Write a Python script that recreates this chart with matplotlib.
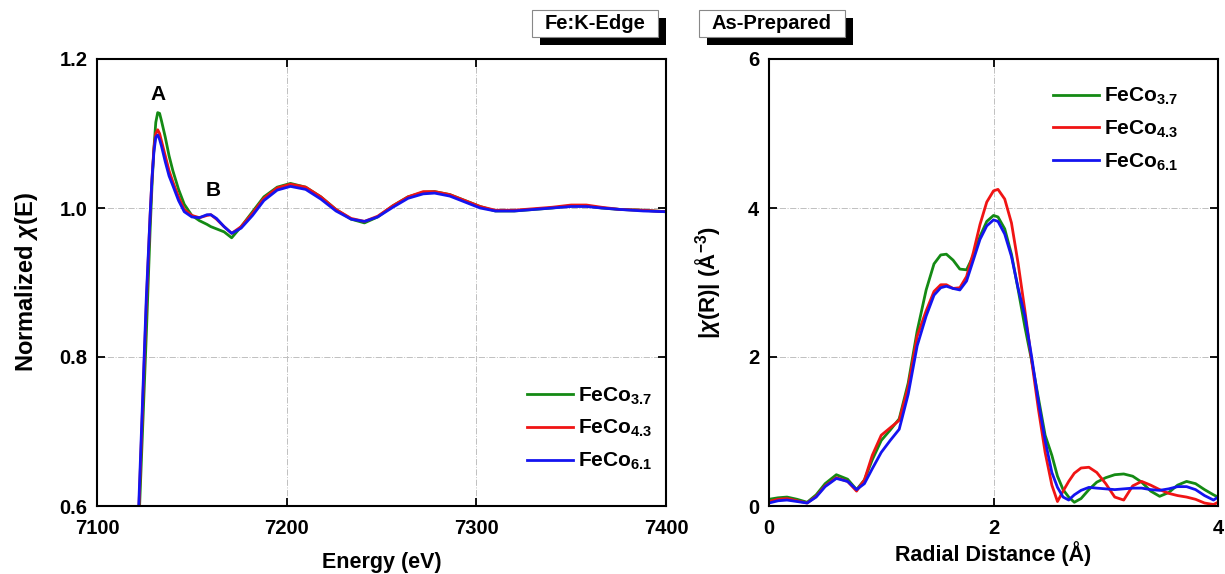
import numpy as np
from matplotlib import pyplot as plt
from matplotlib.patches import Rectangle

plt.rcParams['font.family'] = ['Liberation Sans', 'DejaVu Sans']
plt.rcParams['font.weight'] = 'bold'
plt.rcParams['mathtext.fontset'] = 'custom'
plt.rcParams['mathtext.rm'] = 'Liberation Sans:bold'
plt.rcParams['mathtext.bf'] = 'Liberation Sans:bold'
plt.rcParams['mathtext.it'] = 'Liberation Sans:italic'

# XANES (Fe K-edge)
energy = [7121, 7122, 7124, 7126, 7128, 7129, 7130, 7131, 7132, 7133, 7134, 7136, 7138, 7140,
          7143, 7146, 7150, 7154, 7158, 7160, 7163, 7167, 7171, 7176, 7182, 7188, 7195,
          7202, 7210, 7218, 7226, 7234, 7241, 7248, 7256, 7264, 7272, 7278, 7286, 7294,
          7302, 7310, 7320, 7330, 7340, 7350, 7358, 7366, 7376, 7388, 7400]
xanes_37 = [0.52, 0.57, 0.70, 0.83, 0.97, 1.03, 1.08, 1.115, 1.128, 1.127, 1.117, 1.095, 1.07, 1.05,
            1.025, 1.005, 0.99, 0.983, 0.978, 0.975, 0.972, 0.968, 0.960, 0.975, 0.995, 1.015, 1.028,
            1.033, 1.028, 1.015, 0.998, 0.985, 0.980, 0.988, 1.003, 1.015, 1.021, 1.022, 1.018, 1.010,
            1.002, 0.996, 0.996, 0.998, 1.000, 1.003, 1.003, 1.000, 0.998, 0.997, 0.995]
xanes_43 = [0.55, 0.59, 0.73, 0.87, 0.99, 1.04, 1.08, 1.10, 1.105, 1.10, 1.09, 1.07, 1.05, 1.035,
            1.015, 0.998, 0.99, 0.987, 0.99, 0.991, 0.985, 0.975, 0.966, 0.975, 0.993, 1.013, 1.027,
            1.032, 1.028, 1.015, 0.998, 0.986, 0.982, 0.989, 1.003, 1.015, 1.022, 1.022, 1.018, 1.010,
            1.002, 0.997, 0.997, 0.999, 1.001, 1.004, 1.004, 1.001, 0.998, 0.997, 0.995]
xanes_61 = [0.56, 0.60, 0.74, 0.88, 0.99, 1.04, 1.075, 1.095, 1.098, 1.092, 1.083, 1.062, 1.043, 1.03,
            1.01, 0.995, 0.988, 0.987, 0.991, 0.991, 0.986, 0.975, 0.966, 0.973, 0.990, 1.010, 1.024,
            1.029, 1.025, 1.012, 0.996, 0.985, 0.982, 0.988, 1.001, 1.013, 1.019, 1.020, 1.016, 1.008,
            1.000, 0.996, 0.996, 0.998, 1.000, 1.002, 1.002, 1.000, 0.998, 0.996, 0.995]

# EXAFS Fourier transform magnitude
radial = [0, 0.08, 0.16, 0.25, 0.34, 0.42, 0.5, 0.6, 0.7, 0.78, 0.85, 0.92, 1.0, 1.08, 1.16,
          1.24, 1.32, 1.40, 1.47, 1.53, 1.58, 1.64, 1.70, 1.76, 1.82, 1.88, 1.94, 2.0, 2.04,
          2.10, 2.16, 2.22, 2.28, 2.34, 2.40, 2.46, 2.52, 2.57, 2.62, 2.67, 2.72, 2.78, 2.85,
          2.92, 3.0, 3.08, 3.16, 3.24, 3.32, 3.40, 3.48, 3.56, 3.64, 3.72, 3.80, 3.88, 3.96, 4.0]
chir_37 = [0.09, 0.11, 0.12, 0.09, 0.05, 0.15, 0.30, 0.42, 0.36, 0.22, 0.35, 0.62, 0.88, 1.02, 1.17,
           1.65, 2.35, 2.90, 3.25, 3.37, 3.38, 3.30, 3.18, 3.17, 3.36, 3.62, 3.82, 3.90, 3.88,
           3.72, 3.38, 2.90, 2.40, 1.95, 1.45, 0.95, 0.68, 0.40, 0.22, 0.12, 0.05, 0.10, 0.22,
           0.32, 0.38, 0.42, 0.43, 0.40, 0.32, 0.20, 0.13, 0.18, 0.28, 0.33, 0.30, 0.22, 0.15, 0.12]
chir_43 = [0.06, 0.09, 0.10, 0.07, 0.04, 0.13, 0.27, 0.38, 0.33, 0.20, 0.35, 0.68, 0.95, 1.05, 1.15,
           1.60, 2.28, 2.62, 2.88, 2.97, 2.97, 2.92, 2.93, 3.08, 3.40, 3.78, 4.08, 4.23, 4.25,
           4.12, 3.80, 3.25, 2.62, 1.95, 1.30, 0.72, 0.28, 0.06, 0.20, 0.33, 0.44, 0.51, 0.52,
           0.45, 0.30, 0.12, 0.08, 0.27, 0.33, 0.28, 0.22, 0.17, 0.14, 0.12, 0.09, 0.04, 0.02, 0.05]
chir_61 = [0.04, 0.07, 0.08, 0.06, 0.04, 0.12, 0.26, 0.37, 0.33, 0.22, 0.30, 0.50, 0.72, 0.88, 1.03,
           1.50, 2.15, 2.55, 2.83, 2.93, 2.95, 2.92, 2.90, 3.02, 3.30, 3.58, 3.76, 3.84, 3.82,
           3.65, 3.35, 2.92, 2.55, 2.00, 1.40, 0.88, 0.45, 0.25, 0.12, 0.08, 0.15, 0.21, 0.25,
           0.24, 0.23, 0.22, 0.23, 0.24, 0.24, 0.22, 0.21, 0.23, 0.26, 0.26, 0.22, 0.14, 0.08, 0.12]

labels = [r'FeCo$_{\mathbf{3.7}}$', r'FeCo$_{\mathbf{4.3}}$', r'FeCo$_{\mathbf{6.1}}$']
colors = ['#148a14', '#f01414', '#1414f0']

W, H = 1225, 574
fig = plt.figure(figsize=(W / 100, H / 100), dpi=100)

def figrect(x0, y0, x1, y1):
    return [x0 / W, 1 - y1 / H, (x1 - x0) / W, (y1 - y0) / H]

ax1 = fig.add_axes(figrect(97, 59, 666, 506))
ax2 = fig.add_axes(figrect(769, 59, 1218, 506))

for y, c, l in zip([xanes_37, xanes_43, xanes_61], colors, labels):
    ax1.plot(energy, y, color=c, lw=2.0, label=l)
for y, c, l in zip([chir_37, chir_43, chir_61], colors, labels):
    ax2.plot(radial, y, color=c, lw=2.0, label=l)

ax1.set_xlim(7100, 7400)
ax1.set_ylim(0.6, 1.2)
ax1.set_xticks([7100, 7200, 7300, 7400])
ax1.set_yticks([0.6, 0.8, 1.0, 1.2])
ax1.set_yticklabels(['0.6', '0.8', '1.0', '1.2'])
ax2.set_xlim(0, 4)
ax2.set_ylim(0, 6)
ax2.set_xticks([0, 2, 4])
ax2.set_yticks([0, 2, 4, 6])

for ax in (ax1, ax2):
    ax.grid(True, linestyle='-.', color='#c0c0c0', lw=0.7)
    ax.tick_params(direction='in', top=True, right=True, length=6, width=1.3, labelsize=14.5)
    ax.tick_params(axis='x', pad=9)
    ax.tick_params(axis='y', pad=7)
    for s in ax.spines.values():
        s.set_linewidth(1.5)
    for t in ax.get_yticklabels() + ax.get_xticklabels():
        t.set_fontweight('bold')

ax1.set_xlabel('Energy (eV)', fontsize=15.5, fontweight='bold')
ax1.xaxis.set_label_coords(0.5, -0.103)
ax1.set_ylabel(r'Normalized $\chi$(E)', fontsize=17, fontweight='bold')
ax1.yaxis.set_label_coords(-0.1, 0.5)
ax2.set_xlabel('Radial Distance (Å)', fontsize=15.5, fontweight='bold')
ax2.xaxis.set_label_coords(0.5, -0.078)
ax2.set_ylabel(r'|$\chi$(R)| (Å$^{\mathbf{-3}}$)', fontsize=16, fontweight='bold')
ax2.yaxis.set_label_coords(-0.103, 0.5)

ax1.text(7132, 1.152, 'A', fontsize=15, fontweight='bold', ha='center', va='center')
ax1.text(7161.5, 1.023, 'B', fontsize=15, fontweight='bold', ha='center', va='center')

ax1.legend(loc='upper left', bbox_to_anchor=(0.756, 0.27), frameon=False, fontsize=15,
           handlelength=2.2, handletextpad=0.25, borderpad=0, borderaxespad=0, labelspacing=0.55)
ax2.legend(loc='upper left', bbox_to_anchor=(0.633, 0.94), frameon=False, fontsize=15,
           handlelength=2.2, handletextpad=0.25, borderpad=0, borderaxespad=0, labelspacing=0.55)

# header boxes with drop shadow
for (x0, x1, txt) in [(532, 658, 'Fe:K-Edge'), (699, 845, 'As-Prepared')]:
    fig.patches.append(Rectangle(((x0 + 8) / W, 1 - 45 / H), (x1 - x0) / W, 27 / H,
                                 transform=fig.transFigure, facecolor='black', edgecolor='none'))
    fig.patches.append(Rectangle((x0 / W, 1 - 37 / H), (x1 - x0) / W, 27 / H,
                                 transform=fig.transFigure, facecolor='white', edgecolor='#888888', lw=0.8))
    fig.text((x0 + x1) / 2 / W, 1 - 23.5 / H, txt, ha='center', va='center', fontsize=14.5, fontweight='bold')

plt.savefig('out.png', dpi=100)
